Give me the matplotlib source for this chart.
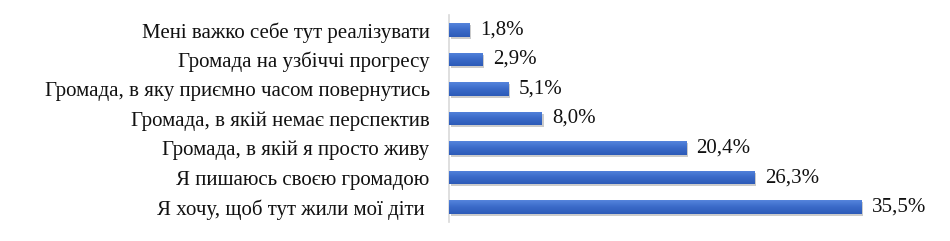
import matplotlib
matplotlib.use("Agg")
import matplotlib.pyplot as plt
import numpy as np
from matplotlib import transforms
from matplotlib.colors import LinearSegmentedColormap

categories = [
    "Мені важко себе тут реалізувати",
    "Громада на узбіччі прогресу",
    "Громада, в яку приємно часом повернутись",
    "Громада, в якій немає перспектив",
    "Громада, в якій я просто живу",
    "Я пишаюсь своєю громадою",
    "Я хочу, щоб тут жили мої діти ",
]
values = [1.8, 2.9, 5.1, 8.0, 20.4, 26.3, 35.5]
value_labels = ["1,8%", "2,9%", "5,1%", "8,0%", "20,4%", "26,3%", "35,5%"]

plt.rcParams['font.family'] = ['Liberation Serif', 'DejaVu Serif']

fig = plt.figure(figsize=(9.5, 2.41), dpi=100)
ax = fig.add_axes([449/950, 1 - 222/241, (914-449)/950, (222-15)/241])

y = list(range(len(categories)))
shadow = transforms.offset_copy(ax.transData, fig=fig, x=1.5, y=-2, units='dots')
ax.barh(y, values, height=0.46, color='#8c8c8c', alpha=0.45, transform=shadow, zorder=1)
bars = ax.barh(y, values, height=0.46, color='#3f6fcb', zorder=2)

cmap = LinearSegmentedColormap.from_list('g', ['#5584dc', '#3a6ac8', '#2d5bb8'])
grad = np.linspace(0, 1, 64).reshape(-1, 1)
for b in bars:
    x0, y0 = b.get_x(), b.get_y()
    w, h = b.get_width(), b.get_height()
    im = ax.imshow(grad, cmap=cmap, aspect='auto', extent=(x0, x0 + w, y0 + h, y0),
                   origin='upper', zorder=3, interpolation='bilinear')
    im.set_clip_path(b)

for yi, v, lab in zip(y, values, value_labels):
    ax.annotate(lab, (v, yi), xytext=(7.5, 0), textcoords='offset points',
                va='center', ha='left', fontsize=15, color='#111111', zorder=4)

ax.set_yticks(y)
ax.set_yticklabels(categories, fontsize=15, color='#111111')
ax.set_xlim(0, 40)
ax.set_ylim(len(categories) - 0.5, -0.5)
ax.set_xticks([])
ax.tick_params(axis='y', length=0, pad=14)
for s in ['top', 'right', 'bottom']:
    ax.spines[s].set_visible(False)
ax.spines['left'].set_color('#d9d9d9')
ax.spines['left'].set_linewidth(1.2)

fig.savefig('out.png', dpi=100)
